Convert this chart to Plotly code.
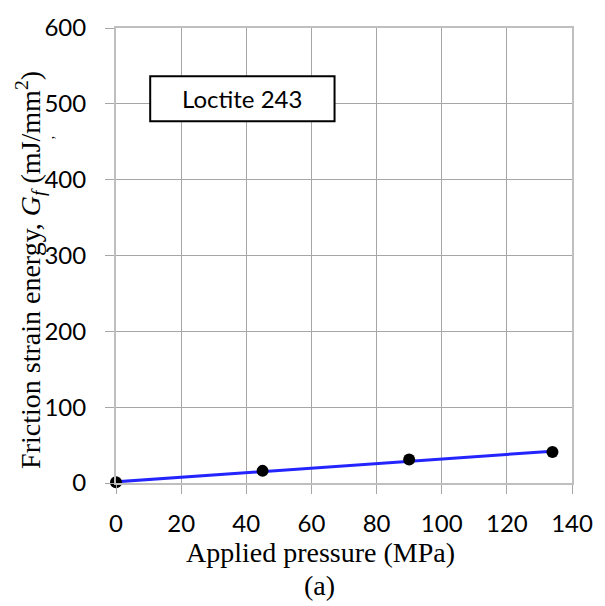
import plotly.graph_objects as go

# Data
pressure = [0, 45, 90, 134]
energy = [1, 16, 31, 41]
trend_x = [0, 134]
trend_y = [1.5, 42]
x_ticks = [0, 20, 40, 60, 80, 100, 120, 140]
y_ticks = [0, 100, 200, 300, 400, 500, 600]
label_text = "Loctite 243"

fig = go.Figure()
fig.add_trace(go.Scatter(x=trend_x, y=trend_y, mode="lines", cliponaxis=False,
                         line=dict(color="#2424ff", width=3), showlegend=False))
fig.add_trace(go.Scatter(x=pressure, y=energy, mode="markers", cliponaxis=False,
                         marker=dict(color="black", size=12), showlegend=False))

tickfont = dict(family="Lato", size=24, color="black")
fig.update_layout(
    width=605, height=606,
    margin=dict(l=116, r=24, t=19, b=123),
    paper_bgcolor="white", plot_bgcolor="white",
    xaxis=dict(range=[0, 140], tickvals=x_ticks, ticks="outside", ticklen=9,
               tickcolor="#a6a6a6", showgrid=True, gridcolor="#a6a6a6", gridwidth=1,
               showline=True, linecolor="#bfbfbf", linewidth=2, mirror=True,
               zeroline=False, tickfont=tickfont, ticklabelstandoff=9),
    yaxis=dict(range=[0, 600], tickvals=y_ticks, ticks="outside", ticklen=9,
               tickcolor="#a6a6a6", showgrid=True, gridcolor="#a6a6a6", gridwidth=1,
               showline=True, linecolor="#bfbfbf", linewidth=2, mirror=True,
               zeroline=False, tickfont=tickfont, ticklabelstandoff=14),
)

serif = dict(family="Liberation Serif", size=28, color="black")
fig.add_annotation(text="Applied pressure (MPa)", xref="paper", yref="paper",
                   x=0.449, y=-0.152, xanchor="center", yanchor="middle",
                   showarrow=False, font=serif)
fig.add_annotation(text="(a)", xref="paper", yref="paper",
                   x=0.447, y=-0.225, xanchor="center", yanchor="middle",
                   showarrow=False, font=serif)
fig.add_annotation(text="Friction strain energy, <i>G<sub>f</sub></i> (mJ/mm<sup>2</sup>)",
                   xref="paper", yref="paper", x=-0.189, y=0.468,
                   xanchor="center", yanchor="middle", textangle=-90,
                   showarrow=False, font=serif)
fig.add_annotation(text=",", xref="paper", yref="paper", x=-0.146, y=0.761,
                   xanchor="center", yanchor="middle", textangle=-90,
                   showarrow=False, font=dict(family="Liberation Serif", size=14, color="black"))

fig.add_shape(type="rect", xref="x", yref="y", x0=10.5, x1=67.1, y0=477, y1=536.5,
              line=dict(color="black", width=2), fillcolor="white", layer="above")
fig.add_annotation(text=label_text, xref="x", yref="y", x=38.8, y=506.8,
                   xanchor="center", yanchor="middle", showarrow=False,
                   font=dict(family="Lato", size=24, color="black"))

fig.write_html("out.html")
